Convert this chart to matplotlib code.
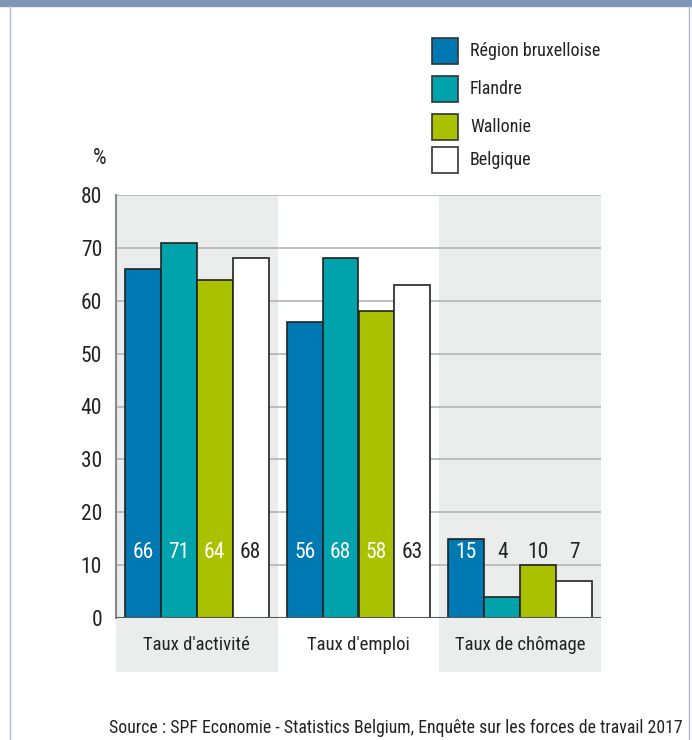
import matplotlib
matplotlib.use("Agg")
import matplotlib.pyplot as plt
from matplotlib import font_manager
from matplotlib.patches import Rectangle
import numpy as np

# Data
categories = ["Taux d'activité", "Taux d'emploi", "Taux de chômage"]
regions = ["Région bruxelloise", "Flandre", "Wallonie", "Belgique"]
bruxelles = [66, 56, 15]
flandre = [71, 68, 4]
wallonie = [64, 58, 10]
belgique = [68, 63, 7]
yticks = [0, 10, 20, 30, 40, 50, 60, 70, 80]
source = "Source : SPF Economie - Statistics Belgium, Enquête sur les forces de travail 2017"

series = [bruxelles, flandre, wallonie, belgique]
colors = ["#0079b3", "#00a3ab", "#aac100", "#ffffff"]
label_colors = ["white", "white", "white", "#222222"]

# Font: prefer a narrow sans face
names = {f.name for f in font_manager.fontManager.ttflist}
family = "DejaVu Sans"
for cand in ["Roboto Condensed", "Liberation Sans Narrow", "Open Sans Condensed"]:
    if cand in names:
        family = cand
        break
plt.rcParams["font.family"] = [family, "DejaVu Sans"]
TXT = "#222222"

W, H = 692, 740
fig = plt.figure(figsize=(W / 100, H / 100), dpi=100)

# Frame: top band and side rules
fig.patches.append(Rectangle((0, 1 - 6 / H), 1, 6 / H, transform=fig.transFigure,
                             color="#8195b6", zorder=0))
fig.lines.append(plt.Line2D([9.5 / W, 9.5 / W], [0, 1 - 6 / H], transform=fig.transFigure,
                            color="#aab8d0", lw=1))
fig.lines.append(plt.Line2D([688.5 / W, 688.5 / W], [0, 1 - 6 / H], transform=fig.transFigure,
                            color="#aab8d0", lw=1))

left, right = 116 / W, 601 / W
bottom, top = 1 - 618 / H, 1 - 195 / H
ax = fig.add_axes([left, bottom, right - left, top - bottom])
ax.set_xlim(-0.5, 2.5)
ax.set_ylim(0, 80)

# Alternating shaded bands, extending under the category labels
for i in range(len(categories)):
    if i % 2 == 0:
        ax.add_patch(Rectangle((i - 0.5, -10.2), 1, 90.2, facecolor="#ebecec",
                               edgecolor="none", clip_on=False, zorder=0))

# Gridlines
for t in yticks[1:]:
    ax.axhline(t, color="#b4b4b4", lw=1.2, zorder=1)
ax.axhline(0, color="#555555", lw=1.5, zorder=4)

bw = 0.222
x = np.arange(len(categories))
for k, (vals, c, lc) in enumerate(zip(series, colors, label_colors)):
    pos = x + (k - 1.5) * bw
    ax.bar(pos, vals, width=bw, color=c, edgecolor="#222222", linewidth=1.2,
           zorder=3, label=regions[k])
    for p, v in zip(pos, vals):
        col = lc if v > 14 else TXT
        ax.text(p, 12.4, f"{v}", ha="center", va="center", fontsize=15.5,
                color=col, zorder=5)

for spine in ["top", "right", "bottom"]:
    ax.spines[spine].set_visible(False)
ax.spines["left"].set_color("#8a8a8a")
ax.spines["left"].set_linewidth(1.5)
ax.set_yticks(yticks)
ax.set_yticklabels([str(t) for t in yticks], fontsize=15.5, color=TXT)
ax.tick_params(axis="y", length=0, pad=10)
ax.set_xticks([])
for i, c in enumerate(categories):
    ax.text(i, -5.1, c, ha="center", va="center", fontsize=13.5, color=TXT)

fig.text(100 / W, 1 - 158 / H, "%", ha="center", va="center", fontsize=15.5, color=TXT)

# Legend drawn as patches
for k, (r, c) in enumerate(zip(regions, colors)):
    yc = [51, 89, 127, 160][k]
    fig.patches.append(Rectangle((432 / W, 1 - (yc + 13) / H), 26 / W, 26 / H,
                                 transform=fig.transFigure, facecolor=c,
                                 edgecolor="#333333", lw=1.2))
    fig.text(470 / W, 1 - yc / H, r, ha="left", va="center", fontsize=13, color=TXT)

fig.text(683 / W, 1 - 728 / H, source, ha="right", va="center", fontsize=12.8, color=TXT)

fig.savefig("out.png", dpi=100)
